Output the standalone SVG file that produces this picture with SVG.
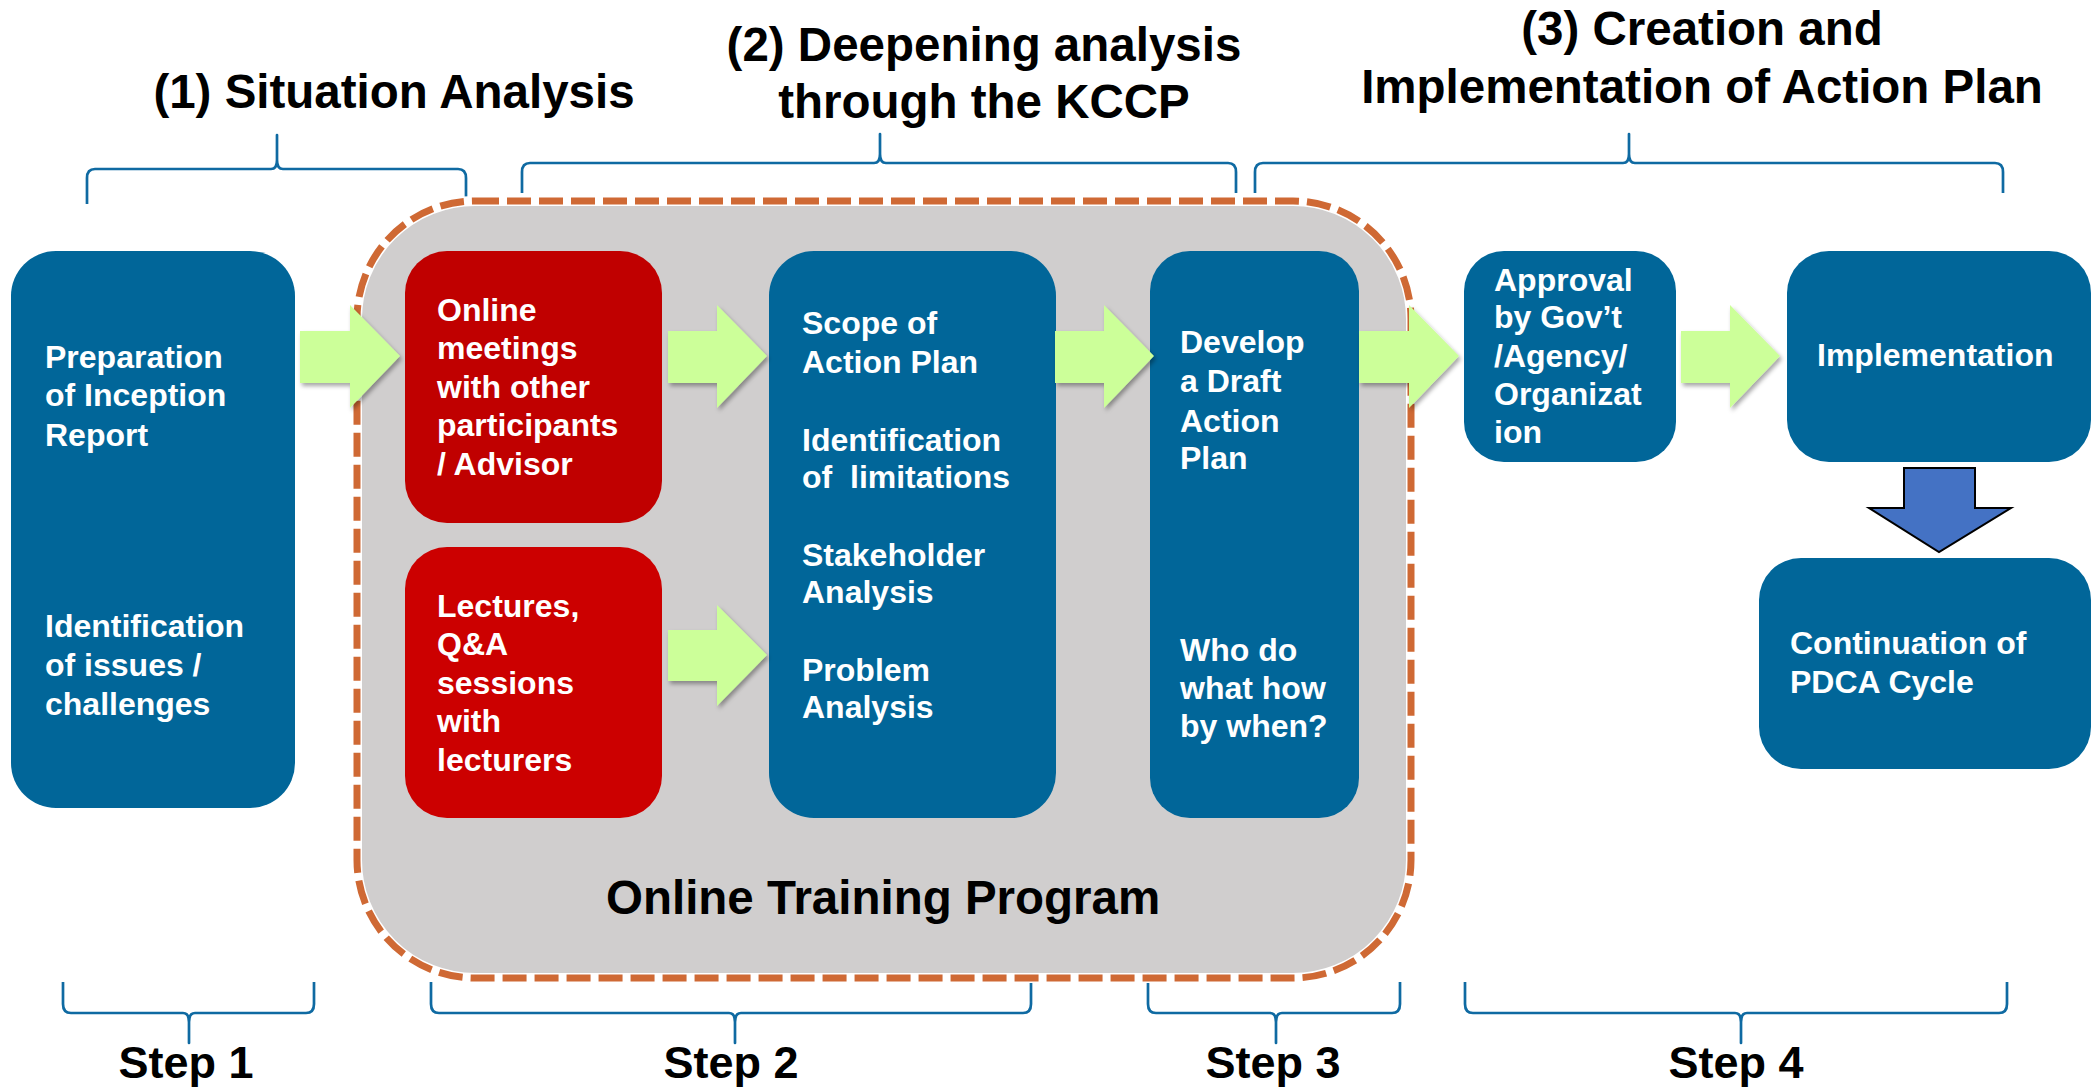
<svg xmlns="http://www.w3.org/2000/svg" width="2091" height="1088" viewBox="0 0 2091 1088">
<defs>
<style>
.t{font-family:"Liberation Sans",Arial,sans-serif;font-weight:bold;}
.title{font-size:47.5px;fill:#000;text-anchor:middle;}
.step{font-size:45px;fill:#000;text-anchor:middle;}
.lbl{font-size:32px;fill:#fff;}
.blue{fill:#016699;}
.brace{fill:none;stroke:#0F6AA2;stroke-width:2.7;stroke-linejoin:round;stroke-linecap:butt;}
.garrow{fill:#CCFF99;filter:url(#sh);}
</style>
<filter id="sh" x="-20%" y="-20%" width="150%" height="150%">
<feDropShadow dx="2" dy="3" stdDeviation="2" flood-color="#000" flood-opacity="0.35"/>
</filter>
</defs>
<rect width="2091" height="1088" fill="#fff"/>

<g id="titles">
<text class="t title" x="394" y="108">(1) Situation Analysis</text>
<text class="t title" x="984" y="61">(2) Deepening analysis</text>
<text class="t title" x="984" y="118">through the KCCP</text>
<text class="t title" x="1702" y="45">(3) Creation and</text>
<text class="t title" x="1702" y="103">Implementation of Action Plan</text>
</g>

<g id="braces">
<path class="brace" d="M87,204 L87,178 Q87,169 95,169 L271,169 Q277,169 277,160 L277,135 L277,160 Q277,169 283,169 L458,169 Q466,169 466,178 L466,204"/>
<path class="brace" d="M522,193 L522,172 Q522,163 530,163 L874,163 Q880,163 880,154 L880,134 L880,154 Q880,163 886,163 L1228,163 Q1236,163 1236,172 L1236,193"/>
<path class="brace" d="M1255,193 L1255,172 Q1255,163 1263,163 L1623,163 Q1629,163 1629,154 L1629,134 L1629,154 Q1629,163 1635,163 L1995,163 Q2003,163 2003,172 L2003,193"/>
<path class="brace" d="M63,982 L63,1004 Q63,1013 71,1013 L183,1013 Q189,1013 189,1022 L189,1043 L189,1022 Q189,1013 195,1013 L306,1013 Q314,1013 314,1004 L314,982"/>
<path class="brace" d="M431,982 L431,1004 Q431,1013 439,1013 L729,1013 Q735,1013 735,1022 L735,1043 L735,1022 Q735,1013 741,1013 L1023,1013 Q1031,1013 1031,1004 L1031,982"/>
<path class="brace" d="M1148,982 L1148,1004 Q1148,1013 1156,1013 L1270,1013 Q1276,1013 1276,1022 L1276,1043 L1276,1022 Q1276,1013 1282,1013 L1392,1013 Q1400,1013 1400,1004 L1400,982"/>
<path class="brace" d="M1465,982 L1465,1004 Q1465,1013 1473,1013 L1735,1013 Q1741,1013 1741,1022 L1741,1043 L1741,1022 Q1741,1013 1747,1013 L1999,1013 Q2007,1013 2007,1004 L2007,982"/>
<text class="t step" x="186" y="1078">Step 1</text>
<text class="t step" x="731" y="1078">Step 2</text>
<text class="t step" x="1273" y="1078">Step 3</text>
<text class="t step" x="1736" y="1078">Step 4</text>
</g>

<g id="online-training-program">
<rect x="357" y="201" width="1054" height="777" rx="118" ry="118" fill="#D0CECE" stroke="#fff" stroke-width="10"/>
<rect x="357" y="201" width="1054" height="777" rx="118" ry="118" fill="none" stroke="#CF6934" stroke-width="7" stroke-dasharray="24 8"/>
<text class="t" x="606" y="914" font-size="47.5" fill="#000">Online Training Program</text>
</g>

<g id="node-preparation">
<rect class="blue" x="11" y="251" width="284" height="557" rx="45"/>
<text class="t lbl"><tspan x="45" y="368">Preparation</tspan><tspan x="45" y="406">of Inception</tspan><tspan x="45" y="446">Report</tspan><tspan x="45" y="637">Identification</tspan><tspan x="45" y="676">of issues /</tspan><tspan x="45" y="715">challenges</tspan></text>
</g>

<g id="node-online-meetings">
<rect x="405" y="251" width="257" height="272" rx="42" fill="#C00000"/>
<text class="t lbl"><tspan x="437" y="321">Online</tspan><tspan x="437" y="359">meetings</tspan><tspan x="437" y="398">with other</tspan><tspan x="437" y="436">participants</tspan><tspan x="437" y="475">/ Advisor</tspan></text>
</g>

<g id="node-lectures">
<rect x="405" y="547" width="257" height="271" rx="42" fill="#CC0000"/>
<text class="t lbl"><tspan x="437" y="617">Lectures,</tspan><tspan x="437" y="655">Q&amp;A</tspan><tspan x="437" y="694">sessions</tspan><tspan x="437" y="732">with</tspan><tspan x="437" y="771">lecturers</tspan></text>
</g>

<g id="node-scope">
<rect class="blue" x="769" y="251" width="287" height="567" rx="45"/>
<text class="t lbl"><tspan x="802" y="334">Scope of</tspan><tspan x="802" y="373">Action Plan</tspan><tspan x="802" y="451">Identification</tspan><tspan x="802" y="488">of&#160; limitations</tspan><tspan x="802" y="566">Stakeholder</tspan><tspan x="802" y="603">Analysis</tspan><tspan x="802" y="681">Problem</tspan><tspan x="802" y="718">Analysis</tspan></text>
</g>

<g id="node-develop">
<rect class="blue" x="1150" y="251" width="209" height="567" rx="40"/>
<text class="t lbl"><tspan x="1180" y="353">Develop</tspan><tspan x="1180" y="392">a Draft</tspan><tspan x="1180" y="432">Action</tspan><tspan x="1180" y="469">Plan</tspan><tspan x="1180" y="661">Who do</tspan><tspan x="1180" y="699">what how</tspan><tspan x="1180" y="737">by when?</tspan></text>
</g>

<g id="node-approval">
<rect class="blue" x="1464" y="251" width="212" height="211" rx="40"/>
<text class="t lbl"><tspan x="1494" y="291">Approval</tspan><tspan x="1494" y="328">by Gov’t</tspan><tspan x="1494" y="367">/Agency/</tspan><tspan x="1494" y="405">Organizat</tspan><tspan x="1494" y="443">ion</tspan></text>
</g>

<g id="node-implementation">
<rect class="blue" x="1787" y="251" width="304" height="211" rx="42"/>
<text class="t lbl" x="1817" y="366">Implementation</text>
</g>

<g id="node-continuation">
<rect class="blue" x="1759" y="558" width="332" height="211" rx="42"/>
<text class="t lbl"><tspan x="1790" y="654">Continuation of</tspan><tspan x="1790" y="693">PDCA Cycle</tspan></text>
</g>

<g id="connectors">
<polygon class="garrow" points="300,331 350,331 350,305 400,356 350,408 350,383 300,383"/>
<polygon class="garrow" points="668,331 717,331 717,305 767,356 717,408 717,383 668,383"/>
<polygon class="garrow" points="1055,331 1104,331 1104,305 1154,356 1104,408 1104,383 1055,383"/>
<polygon class="garrow" points="1359,331 1409,331 1409,305 1459,356 1409,408 1409,383 1359,383"/>
<polygon class="garrow" points="1681,331 1730,331 1730,305 1780,356 1730,408 1730,383 1681,383"/>
<polygon class="garrow" points="668,630 717,630 717,605 767,655 717,706 717,681 668,681"/>
<polygon points="1904,468 1975,468 1975,508 2011,508 1939,552 1869,508 1904,508" fill="#4472C4" stroke="#000" stroke-width="2"/>
</g>
</svg>
